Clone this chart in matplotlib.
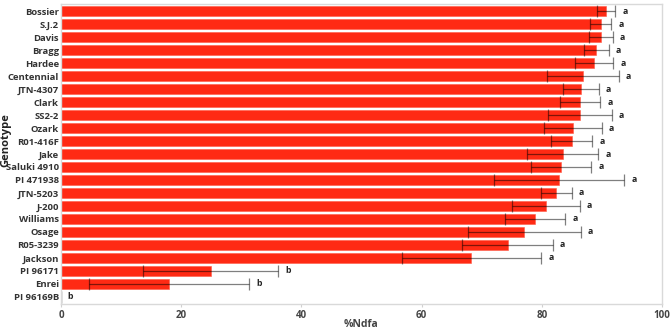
import matplotlib
matplotlib.use('Agg')
import matplotlib.pyplot as plt

genotypes = ['Bossier', 'S.J.2', 'Davis', 'Bragg', 'Hardee', 'Centennial', 'JTN-4307',
             'Clark', 'SS2-2', 'Ozark', 'R01-416F', 'Jake', 'Saluki 4910', 'PI 471938',
             'JTN-5203', 'J-200', 'Williams', 'Osage', 'R05-3239', 'Jackson',
             'PI 96171', 'Enrei', 'PI 96169B']
ndfa = [90.7, 89.8, 89.8, 89.1, 88.7, 86.8, 86.5, 86.4, 86.3, 85.2, 85.0, 83.5, 83.2,
        82.9, 82.4, 80.7, 78.9, 77.1, 74.3, 68.3, 24.9, 18.0, 0.0]
err = [1.5, 1.7, 2.0, 2.0, 3.2, 6.0, 3.0, 3.3, 5.3, 4.8, 3.4, 5.9, 5.0,
       10.8, 2.6, 5.6, 5.0, 9.4, 7.5, 11.6, 11.2, 13.3, 0.0]
letters = ['a'] * 20 + ['b', 'b', 'b']

plt.rcParams['font.family'] = ['Open Sans', 'DejaVu Sans']

fig = plt.figure(figsize=(6.7, 3.29), dpi=100)
ax = fig.add_axes([61 / 670, 25 / 329, 601 / 670, 300 / 329])

ypos = list(range(len(genotypes)))
ax.barh(ypos, ndfa, height=0.72, color='#ff2a14', edgecolor='#ff5a45', linewidth=0.4)
ax.errorbar(ndfa, ypos, xerr=err, fmt='none', ecolor='black', alpha=0.5,
            elinewidth=0.9, capsize=4, capthick=0.9)

for y, v, e, lab in zip(ypos, ndfa, err, letters):
    xt = v + e + 1.2 if v > 0 else 1.0
    ax.text(xt, y, lab, fontsize=6.3, fontweight='bold', va='center', ha='left', color='#222222')

ax.set_xlim(0, 100)
ax.set_ylim(len(genotypes) - 0.45, -0.55)
ax.set_yticks(ypos)
ax.set_yticklabels(genotypes, fontsize=6.8, fontweight='bold', color='#333333')
ax.set_xticks([0, 20, 40, 60, 80, 100])
ax.set_xticklabels(['0', '20', '40', '60', '80', '100'], fontsize=7, fontweight='bold', color='#444444')
ax.tick_params(axis='y', length=0, pad=1.5)
ax.tick_params(axis='x', length=2, color='#d0d0d0', pad=2)
for s in ax.spines.values():
    s.set_color('#d9d9d9')
    s.set_linewidth(1.0)

ax.set_xlabel('%Ndfa', fontsize=7.5, fontweight='bold', color='#444444', labelpad=-1)
fig.text(0.0, 0.575, 'Genotype', rotation=90, fontsize=8, fontweight='bold',
         va='center', ha='left', color='#222222')

plt.savefig('out.png', dpi=100)
plt.close()
